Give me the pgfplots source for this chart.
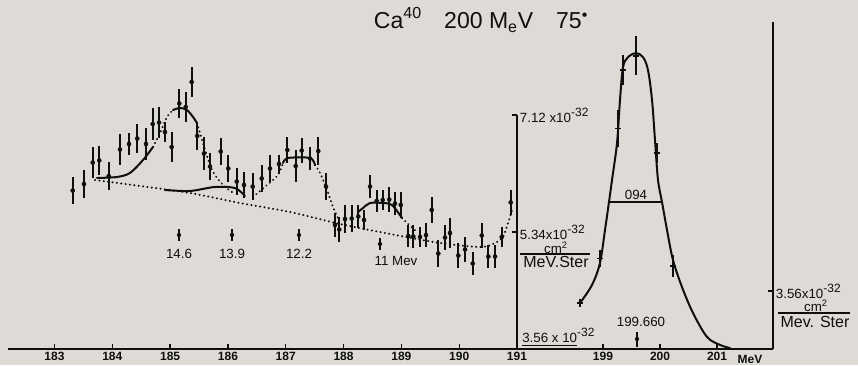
\documentclass[border=0pt]{standalone}
\usepackage{pgfplots}
\pgfplotsset{compat=1.18}
\usepackage{fontspec}
\setmainfont{Liberation Sans}
\definecolor{paper}{RGB}{222,218,213}
\definecolor{ink}{RGB}{15,15,15}

% pixel position of the scan -> picture coordinates
\newcommand{\px}[2]{({#1*0.75pt},{(365-#2)*0.75pt})}
\newcommand{\hsup}[1]{\raisebox{0.85ex}{\small #1}}
\tikzset{lab/.style={text=ink, inner sep=0pt}}

\pgfplotstableread{
x       y      e
183.315 5.971 0.205
183.510 6.070 0.213
183.661 6.397 0.236
183.775 6.428 0.221
183.938 6.192 0.213
184.133 6.595 0.236
184.289 6.679 0.167
184.432 6.762 0.221
184.583 6.679 0.243
184.699 6.983 0.243
184.808 7.006 0.236
184.911 6.861 0.152
185.027 6.633 0.228
185.159 7.295 0.221
185.270 7.242 0.228
185.373 7.622 0.228
185.470 6.801 0.213
185.586 6.534 0.251
185.690 6.337 0.205
185.875 6.565 0.205
186.006 6.306 0.205
186.152 6.108 0.205
186.278 6.055 0.198
186.428 6.032 0.205
186.584 6.154 0.205
186.728 6.306 0.205
186.883 6.375 0.137
187.027 6.588 0.198
187.172 6.344 0.243
187.276 6.580 0.190
187.420 6.458 0.175
187.563 6.572 0.213
187.696 6.032 0.205
187.852 5.447 0.183
187.926 5.378 0.190
188.025 5.538 0.213
188.141 5.545 0.205
188.255 5.576 0.175
188.354 5.523 0.152
188.458 6.032 0.175
188.573 5.812 0.167
188.677 5.827 0.152
188.791 5.834 0.190
188.890 5.774 0.175
188.989 5.751 0.198
189.120 5.279 0.167
189.207 5.272 0.175
189.323 5.264 0.152
189.426 5.294 0.183
189.525 5.675 0.198
189.639 5.013 0.205
189.755 5.256 0.190
189.841 5.325 0.228
189.985 4.982 0.190
190.101 5.074 0.190
190.234 4.861 0.175
190.390 5.287 0.190
190.504 4.967 0.175
190.620 4.967 0.175
190.736 5.264 0.152
190.891 5.789 0.190
}\lowdata

\pgfplotstableread{
x       y     e
198.596 2.82  0.25
198.947 5.55  0.52
199.263 13.53 1.14
199.351 17.12 0.92
199.579 18.00 1.20
199.947 12.03 0.62
200.228 5.10  0.68
}\peakdata

\begin{document}
\begin{tikzpicture}
\fill[paper] (0,0) rectangle (643.5pt,273.75pt);
\useasboundingbox (0,0) rectangle (643.5pt,273.75pt);

\pgfplotsset{
  hand/.style={
    scale only axis, clip=false, anchor=south west,
    axis x line=bottom, axis y line=right,
    x axis line style={ink, line width=2.1pt, -},
    y axis line style={ink, line width=1.7pt, -},
    tick style={ink, line width=1pt},
    tick align=inside, major tick length=4pt,
    xticklabel style={font=\small\bfseries, text=ink, yshift=1.5pt},
    yticklabel style={font=\normalsize, text=ink, anchor=west, xshift=1pt,
      inner sep=1pt},
  },
  bars/.style={ink,
    error bars/y dir=both, error bars/y explicit,
    error bars/error mark=none,
    error bars/error bar style={line width=1.6pt, ink}},
  fit/.style={ink, line width=1.5pt, smooth, line cap=round},
  dots/.style={ink, line width=1.6pt, smooth, line cap=round,
    dash pattern=on 0.1pt off 3.2pt},
}

% low-excitation region, 183 - 191 MeV
\begin{axis}[hand, at={(6pt,12pt)}, width=381.75pt, height=175.5pt,
  xmin=182.196, xmax=191, ymin=3.56, ymax=7.12,
  xtick={183,184,185,186,187,188,189,190,191},
  xticklabels={183,184,185,186,187,188,189,190,191},
  ytick={5.34,7.12},
  yticklabels={5.34x10\hsup{-32},7.12 x10\hsup{-32}}]
\addplot[bars, only marks, mark=*, mark size=1.5pt] table[y error=e] {\lowdata};
% background
\addplot[dots] coordinates {
  (183.701,6.131) (184.479,6.040) (185.344,5.933) (186.209,5.781)
  (187.074,5.644) (187.939,5.462) (188.804,5.310) (189.669,5.173)
  (190.361,5.112) (190.620,5.173) (190.758,5.264) (190.845,5.477) (190.914,5.675)};
% 14.6 MeV level
\addplot[fit] coordinates {
  (183.735,6.162) (184.081,6.177) (184.306,6.238) (184.531,6.435) (184.704,6.633)};
\addplot[dots] coordinates {
  (184.704,6.633) (184.825,6.846) (184.946,7.090) (185.050,7.196)};
\addplot[fit] coordinates {
  (185.050,7.196) (185.171,7.227) (185.292,7.196) (185.396,7.090) (185.465,6.998)};
\addplot[dots] coordinates {
  (185.465,6.998) (185.569,6.694) (185.725,6.283) (185.915,6.055) (186.070,5.949)};
% 13.9 MeV level
\addplot[fit] coordinates {
  (184.911,5.979) (185.344,5.964) (185.776,6.025) (186.122,6.009) (186.295,5.888)};
% 12.2 MeV level
\addplot[dots] coordinates {
  (186.434,5.872) (186.676,6.055) (186.866,6.207) (186.953,6.390)};
\addplot[fit] coordinates {
  (186.953,6.390) (187.039,6.466) (187.420,6.466) (187.506,6.359)};
\addplot[dots] coordinates {
  (187.506,6.359) (187.593,6.238) (187.714,5.979) (187.818,5.720) (187.904,5.553)};
% 11 MeV level
\addplot[fit] coordinates {
  (188.250,5.644) (188.337,5.705) (188.458,5.781) (188.683,5.781) (188.838,5.751) (189.011,5.553)};
\addplot[dots] coordinates {
  (189.011,5.553) (189.098,5.477) (189.271,5.340)};
\end{axis}

% elastic peak, 199 - 201 MeV
\begin{axis}[hand, at={(387pt,12pt)}, width=192.75pt, height=245.25pt,
  xmin=197.474, xmax=201.982, ymin=0, ymax=20.07,
  xtick={199,200,201}, xticklabels={199,200,201},
  ytick={3.56}, yticklabels={3.56x10\hsup{-32}}]
\addplot[fit, tension=0.55] coordinates {
  (198.596,2.82) (198.807,3.93) (198.947,5.28) (199.035,7.30) (199.105,9.02)
  (199.158,10.37) (199.246,12.64) (199.298,15.28) (199.351,17.30) (199.439,17.91)
  (199.579,18.16) (199.702,17.91) (199.789,17.12) (199.860,15.28) (199.912,12.82)
  (199.965,10.37) (200.035,9.02) (200.123,7.30) (200.228,5.46) (200.386,3.80)
  (200.579,2.21) (200.825,0.74) (201.053,0.25) (201.228,0.06)};
\addplot[bars, only marks, mark=-, mark size=2pt, mark options={line width=1.2pt}]
  table[y error=e] {\peakdata};
\addplot[ink, line width=2pt] coordinates {(199.105,9.02) (200.035,9.02)};
\end{axis}

% annotations
\node[text=ink, font=\LARGE] at \px{481}{20}
  {Ca\raisebox{0.8ex}{\large 40}\quad 200 M\textsubscript{e}V\quad 75\textsuperscript{\textbullet}};
\node[lab, font=\normalsize, anchor=south west] at \px{522}{346}
  {\underline{3.56 x 10}\hsup{-32}};
% units beside the two y axes
\node[lab, font=\normalsize] at \px{556}{248} {cm\textsuperscript{2}};
\draw[ink, line width=1pt] \px{520}{254} -- \px{590}{254};
\node[lab, font=\large] at \px{556}{262} {MeV.Ster};
\node[lab, font=\normalsize] at \px{816}{306} {cm\textsuperscript{2}};
\draw[ink, line width=1pt] \px{778}{313} -- \px{850}{313};
\node[lab, font=\large] at \px{815}{322} {Mev. Ster};
\node[text=ink, font=\small\bfseries, anchor=north] at \px{750}{351} {MeV};
\node[text=ink, font=\normalsize] at \px{641}{322} {199.660};
\node[text=ink, font=\normalsize] at \px{636}{195} {094};
\draw[ink, line width=1.2pt] \px{637}{332} -- \px{637}{347};
\fill[ink] \px{637}{339} circle (1.6pt);
\foreach \xx/\lab in {179/14.6, 232/13.9, 299/12.2} {
  \draw[ink, line width=1.2pt] \px{\xx}{229} -- \px{\xx}{241};
  \fill[ink] \px{\xx}{235} circle (1.6pt);
  \node[text=ink, font=\normalsize] at \px{\xx}{254} {\lab};
}
\draw[ink, line width=1.2pt] \px{380}{238} -- \px{380}{250};
\fill[ink] \px{380}{244} circle (1.6pt);
\node[text=ink, font=\normalsize] at \px{396}{261} {11 Mev};
\end{tikzpicture}
\end{document}
